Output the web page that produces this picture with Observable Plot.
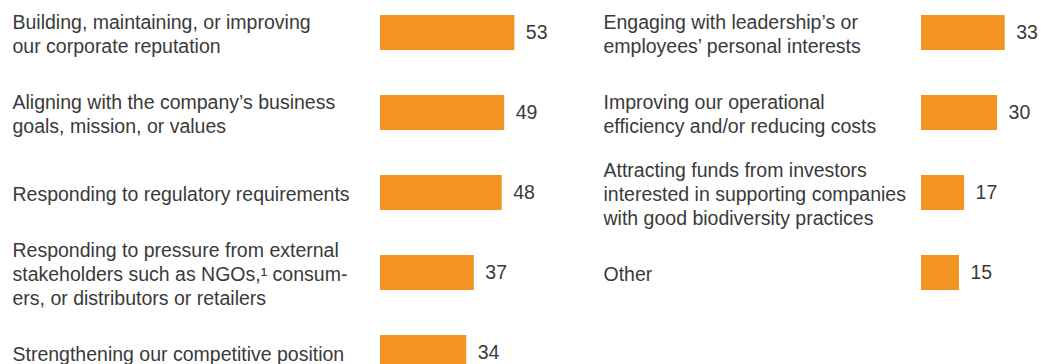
<!DOCTYPE html>
<html>
<head>
<meta charset="utf-8">
<script src="https://cdn.jsdelivr.net/npm/d3@7"></script>
<script src="https://cdn.jsdelivr.net/npm/@observablehq/plot@0.6"></script>
<style>
  html, body { margin: 0; padding: 0; background: #fff; overflow: hidden; }
  #wrap { display: flex; width: 1041px; height: 364px; }
  #wrap svg { overflow: visible; flex: none; }
</style>
</head>
<body>
<div id="wrap"></div>
<script>
const leftLabels = [
  "Building, maintaining, or improving\nour corporate reputation",
  "Aligning with the company’s business\ngoals, mission, or values",
  "Responding to regulatory requirements",
  "Responding to pressure from external\nstakeholders such as NGOs,¹ consum-\ners, or distributors or retailers",
  "Strengthening our competitive position"
];
const leftValues = [53, 49, 48, 37, 34];

const rightLabels = [
  "Engaging with leadership’s or\nemployees’ personal interests",
  "Improving our operational\nefficiency and/or reducing costs",
  "Attracting funds from investors\ninterested in supporting companies\nwith good biodiversity practices",
  "Other"
];
const rightValues = [33, 30, 17, 15];

const barColor = "#F39322";
const textColor = "#3a3a3a";
const font = "Liberation Sans, Arial, sans-serif";
const fs = 19.5;

function column(labels, values, width, labelOffset) {
  const data = labels.map((label, i) => ({label, value: values[i]}));
  const n = labels.length;
  const step = 80, inner = 0.5625;
  const top = 15;
  return Plot.plot({
    width, height: 364,
    marginLeft: 380, marginRight: 0, marginTop: 0, marginBottom: 0,
    style: {fontFamily: font, fontSize: fs + "px", color: textColor, background: "transparent", overflow: "visible"},
    x: {domain: [0, 60], range: [380, 380 + 60 * 2.535], axis: null},
    y: {domain: labels, range: [top, top + step * (n - inner)], paddingInner: inner, paddingOuter: 0, align: 0, axis: null},
    marks: [
      Plot.barX(data, {x: "value", y: "label", fill: barColor}),
      Plot.text(data, {x: "value", y: "label", text: d => String(d.value), dx: 11, textAnchor: "start", fill: textColor, fontSize: fs}),
      Plot.text(data, {x: 0, y: "label", text: "label", dx: -labelOffset, textAnchor: "start", lineAnchor: "middle", lineHeight: 24 / fs, fill: textColor, fontSize: fs})
    ]
  });
}

const wrap = document.getElementById("wrap");
wrap.appendChild(column(leftLabels, leftValues, 541, 368));
wrap.appendChild(column(rightLabels, rightValues, 500, 318));
</script>
</body>
</html>
